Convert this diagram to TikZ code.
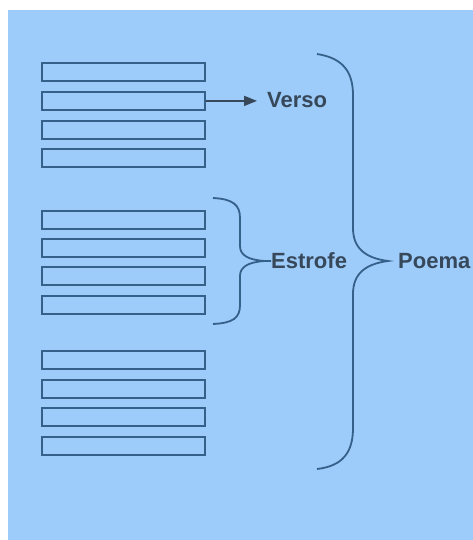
\documentclass[tikz,border=0pt]{standalone}
\usepackage{fontspec}
\setmainfont{Liberation Sans}
\usetikzlibrary{arrows.meta}
\definecolor{bgblue}{HTML}{9DCBFA}
\definecolor{lineblue}{HTML}{35608A}
\definecolor{txt}{HTML}{36485A}
\begin{document}
\begin{tikzpicture}[x=1pt,y=-1pt,
  verse/.style={draw=lineblue,line width=1.8pt,minimum width=163pt,minimum height=18pt,inner sep=0pt,anchor=north west},
  lbl/.style={text=txt,font=\bfseries\fontsize{22}{25}\selectfont,anchor=west,inner sep=0pt},
  brace/.style={draw=lineblue,line width=1.8pt}]
\useasboundingbox (0,0) rectangle (473,540);
\fill[white] (0,0) rectangle (473,540);
\fill[bgblue] (8,10) rectangle (473,540);
% group 1
\node[verse] (r1) at (41,62) {};
\node[verse] (r2) at (41,91) {};
\node[verse] (r3) at (41,120) {};
\node[verse] (r4) at (41,148) {};
% group 2
\node[verse] (r5) at (41,210) {};
\node[verse] (r6) at (41,238) {};
\node[verse] (r7) at (41,266) {};
\node[verse] (r8) at (41,295) {};
% group 3
\node[verse] (r9) at (41,350) {};
\node[verse] (r10) at (41,379) {};
\node[verse] (r11) at (41,407) {};
\node[verse] (r12) at (41,436) {};
% labels
\node[lbl] (verso) at (267,100) {Verso};
\node[lbl] (estrofe) at (271,261) {Estrofe};
\node[lbl] (poema) at (398,261) {Poema};
% arrow
\coordinate (vtip) at ([xshift=-10pt]verso.west |- r2.east);
\draw[draw=txt,line width=1.6pt,-{Triangle[length=13pt,width=10pt]}] (r2.east) -- (vtip);
% estrofe brace
\draw[brace] (213,198) .. controls (233,199) and (240,205) .. (240,218) -- (240,246)
  .. controls (240,255) and (248,260) .. ([xshift=-6pt]estrofe.west) -- (estrofe.west)
  ([xshift=-6pt]estrofe.west) .. controls (248,262) and (240,267) .. (240,276) -- (240,305)
  .. controls (240,318) and (233,323) .. (213,324);
% poema brace
\draw[brace] (317,54) .. controls (343,58) and (353,72) .. (353,95) -- (353,228)
  .. controls (353,248) and (365,258) .. ([xshift=-10pt]poema.west)
  .. controls (365,264) and (353,274) .. (353,294) -- (353,428)
  .. controls (353,452) and (343,466) .. (317,469);
\end{tikzpicture}
\end{document}
